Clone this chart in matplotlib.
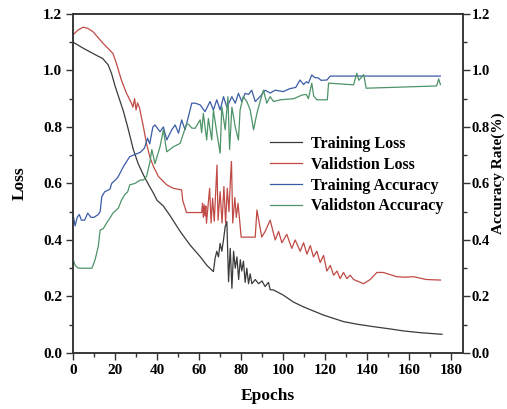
import matplotlib
matplotlib.use("Agg")
import matplotlib.pyplot as plt
from matplotlib.ticker import MultipleLocator, FormatStrFormatter

plt.rcParams['font.family'] = ['Liberation Serif', 'DejaVu Serif']
plt.rcParams['font.weight'] = 'bold'

# training loss (black)
tl_ep = [0, 5, 9.5, 12, 14, 16.7, 18.3, 20, 22, 24, 26, 28.7, 31, 33.5, 36, 38.3, 40, 43, 46, 51, 55.7,
         60.5, 63.7, 66.8, 67.6, 68.4, 69.2, 70, 70.8, 71.6, 72.4, 73.2, 74, 74.8, 75.6, 76.4, 77.2,
         78, 78.8, 79.6, 80.3, 81.1, 81.9, 82.7, 83.5, 84.3, 85.1, 86.7, 88.3, 89.9, 91.4, 93, 93.8,
         95.4, 100, 104.9, 110, 119.2, 128.7, 135, 143, 150, 157.3, 165, 175.6]
tl_val = [1.10, 1.078, 1.06, 1.05, 1.043, 1.02, 0.99, 0.945, 0.90, 0.855, 0.80, 0.72, 0.67, 0.63, 0.595,
          0.565, 0.54, 0.52, 0.488, 0.43, 0.382, 0.341, 0.31, 0.288, 0.335, 0.36, 0.34, 0.388, 0.36,
          0.40, 0.447, 0.465, 0.252, 0.37, 0.229, 0.36, 0.30, 0.34, 0.26, 0.33, 0.29, 0.325, 0.25, 0.30,
          0.245, 0.28, 0.245, 0.26, 0.245, 0.255, 0.235, 0.25, 0.224, 0.223, 0.205, 0.18, 0.162, 0.134,
          0.111, 0.102, 0.093, 0.086, 0.078, 0.072, 0.066]

# validation loss (red)
vl_ep = [0, 2.4, 4.8, 7, 9.5, 14.3, 19, 20.6, 23, 25.4, 27.8, 28.5, 29.3, 30, 30.7, 31.7, 32.5, 33.5,
         35, 36.7, 38.3, 40.6, 44.6, 47.6, 51.7, 52.2, 54, 61.2, 61.6, 62, 62.4, 62.8, 63.2, 63.5, 65,
         65.7, 66.4, 67.2, 68.5, 69, 70, 70.9, 71.8, 72.6, 73.4, 74.2, 75, 75.4, 76, 77, 77.7, 78.5,
         79.4, 80, 86.7, 87.5, 89.8, 91.4, 93.8, 96.2, 97.8, 99.4, 101.7, 104.1, 105.7, 108.1, 109.7,
         111.3, 112.9, 114.4, 116, 117.6, 119.2, 120.8, 122.4, 124, 125.6, 127.1, 128.7, 130.3, 131.9,
         133.5, 136.7, 138.2, 141.4, 144.6, 147.6, 154, 158, 162, 165, 168, 174.8]
vl_val = [1.126, 1.143, 1.153, 1.149, 1.137, 1.096, 1.06, 1.026, 0.966, 0.92, 0.884, 0.87, 0.90, 0.86,
          0.885, 0.866, 0.836, 0.80, 0.74, 0.69, 0.66, 0.625, 0.595, 0.583, 0.577, 0.54, 0.497, 0.497,
          0.53, 0.48, 0.525, 0.485, 0.52, 0.459, 0.583, 0.46, 0.548, 0.466, 0.665, 0.47, 0.571, 0.46,
          0.589, 0.46, 0.583, 0.50, 0.63, 0.677, 0.46, 0.55, 0.48, 0.53, 0.46, 0.41, 0.41, 0.506, 0.41,
          0.43, 0.47, 0.40, 0.43, 0.39, 0.42, 0.37, 0.40, 0.36, 0.39, 0.35, 0.38, 0.34, 0.36, 0.32,
          0.345, 0.29, 0.31, 0.275, 0.29, 0.263, 0.285, 0.263, 0.275, 0.26, 0.25, 0.245, 0.26, 0.285,
          0.285, 0.27, 0.268, 0.27, 0.265, 0.26, 0.258]

# training accuracy (blue)
ta_ep = [0, 1, 2, 3, 4, 5.5, 7, 8.5, 10, 12, 12.9, 13.7, 15, 17.6, 18.4, 20.8, 21.5, 24, 27, 32, 34,
         35.5, 36.5, 38, 39, 41.4, 43, 44.6, 47, 48.6, 50.2, 51.7, 53.3, 54.9, 56.5, 58.1, 60.5, 62.8,
         65.2, 66.8, 68.4, 70, 71.6, 73.2, 75.6, 77.2, 78.7, 80.3, 81.9, 83.5, 85, 86.7, 89, 91.4,
         93.8, 96.2, 100, 103, 106, 108, 109.7, 111, 112, 113.6, 115, 116.8, 118, 120.8, 122.4, 174.8]
ta_val = [0.49, 0.45, 0.48, 0.49, 0.47, 0.47, 0.495, 0.48, 0.48, 0.49, 0.50, 0.553, 0.57, 0.58, 0.60,
          0.617, 0.624, 0.66, 0.695, 0.71, 0.725, 0.76, 0.74, 0.80, 0.807, 0.783, 0.80, 0.754, 0.79,
          0.807, 0.778, 0.825, 0.79, 0.836, 0.884, 0.884, 0.878, 0.854, 0.89, 0.86, 0.896, 0.86, 0.907,
          0.87, 0.907, 0.884, 0.919, 0.89, 0.919, 0.915, 0.93, 0.89, 0.907, 0.93, 0.92, 0.93, 0.925,
          0.935, 0.94, 0.966, 0.95, 0.96, 0.955, 0.984, 0.975, 0.973, 0.965, 0.966, 0.98, 0.98]

# validation accuracy (green)
va_ep = [0, 1, 2.5, 9, 10.5, 12, 12.9, 14.4, 16, 17.6, 19, 21.6, 23, 24.6, 26, 27, 29.5, 32, 33.5, 35,
         36.7, 37.5, 39, 41.4, 43, 44.6, 47.8, 51, 54, 54.9, 56.5, 58.1, 60.5, 61.2, 62, 63.6, 64.4, 66,
         66.8, 68.4, 70, 70.8, 72.4, 73.7, 74.5, 75.6, 77.2, 78.7, 79.5, 81, 82.7, 84.3, 85.9, 87.5,
         89, 90.6, 92.2, 93.8, 95.4, 98.6, 105, 109, 111, 112, 113.6, 114.5, 116, 121, 121.6, 133.5,
         135, 136, 138.3, 139.5, 173, 174, 174.8]
va_val = [0.333, 0.31, 0.30, 0.30, 0.33, 0.376, 0.435, 0.44, 0.46, 0.478, 0.495, 0.513, 0.54, 0.56,
          0.57, 0.595, 0.60, 0.612, 0.612, 0.625, 0.68, 0.72, 0.67, 0.73, 0.79, 0.712, 0.73, 0.742,
          0.81, 0.81, 0.796, 0.795, 0.825, 0.78, 0.848, 0.754, 0.83, 0.754, 0.86, 0.78, 0.707, 0.872,
          0.79, 0.907, 0.72, 0.87, 0.80, 0.754, 0.86, 0.907, 0.89, 0.86, 0.79, 0.848, 0.89, 0.93,
          0.884, 0.907, 0.89, 0.896, 0.90, 0.913, 0.915, 0.90, 0.955, 0.91, 0.896, 0.896, 0.955, 0.949,
          0.99, 0.965, 0.985, 0.937, 0.945, 0.97, 0.95]

fig = plt.figure(figsize=(5.07, 4.09), dpi=100)
ax = fig.add_axes([0.144, 0.137, 0.769, 0.829])
ax2 = ax.twinx()

l1, = ax.plot(tl_ep, tl_val, color='#3a3a3a', lw=0.9, label='Training Loss')
l2, = ax.plot(vl_ep, vl_val, color='#c04a45', lw=0.9, label='Validstion Loss')
l3, = ax2.plot(ta_ep, ta_val, color='#3b5ca6', lw=0.9, label='Training Accuracy')
l4, = ax2.plot(va_ep, va_val, color='#4c9468', lw=0.9, label='Validston Accuracy')

for a in (ax, ax2):
    a.set_xlim(0, 185.5)
    a.set_ylim(0, 1.2)
    a.yaxis.set_major_locator(MultipleLocator(0.2))
    a.yaxis.set_minor_locator(MultipleLocator(0.1))
    a.yaxis.set_major_formatter(FormatStrFormatter('%.1f'))
    a.tick_params(which='major', direction='out', length=5, width=1, labelsize=11, pad=3, color='#333333')
    a.tick_params(which='minor', direction='out', length=3, width=1, color='#333333')
    for s in a.spines.values():
        s.set_linewidth(1.1)
        s.set_color('#333333')
ax2.tick_params(axis='y', which='major', pad=1.5, labelsize=10.5)

ax.xaxis.set_major_locator(MultipleLocator(20))
ax.xaxis.set_minor_locator(MultipleLocator(10))
ax.tick_params(axis='x', which='both', top=False)

ax.set_xlabel('Epochs', fontsize=12.5, fontweight='bold', labelpad=8)
ax.set_ylabel('Loss', fontsize=12.5, fontweight='bold', labelpad=11)
ax2.set_ylabel('Accuracy Rate(%)', fontsize=11, fontweight='bold', labelpad=0)
ax2.yaxis.set_label_coords(1.073, 0.53)

ax2.legend(handles=[l1, l2, l3, l4], loc='upper left', bbox_to_anchor=(0.505, 0.64),
           frameon=False, fontsize=11.5, borderpad=0, handlelength=2.0, handletextpad=0.6,
           labelspacing=0.3, borderaxespad=0)

fig.savefig('out.png', dpi=100)
